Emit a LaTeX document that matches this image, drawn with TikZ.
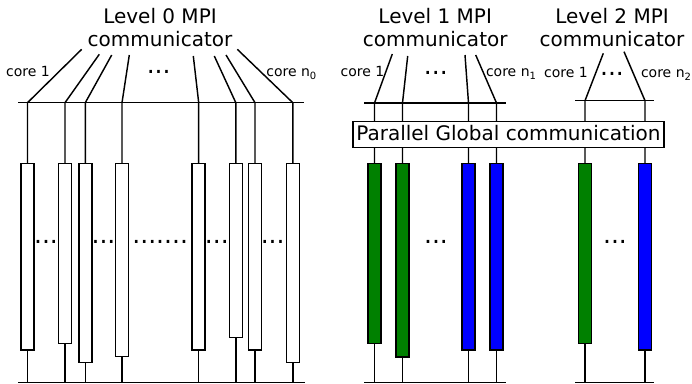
\documentclass[tikz,border=0pt]{standalone}
\usepackage{fontspec}
\setmainfont{DejaVu Sans}
\definecolor{cellgreen}{RGB}{0,128,0}
\definecolor{cellblue}{RGB}{0,0,255}
% small lowered index after "core n"
\newcommand\subidx[1]{{\fontsize{10}{12}\selectfont\raisebox{-3pt}{#1}}}
\begin{document}
\begin{tikzpicture}[x=1pt,y=-1pt,
  wire/.style={draw=black, line width=1.45pt},
  cellbox/.style={draw=black, line width=1.6pt, minimum width=13pt, inner sep=0pt, outer sep=0pt},
  title/.style={align=center, inner sep=0pt, anchor=north, font=\fontsize{20}{23.3}\selectfont},
  corelabel/.style={inner sep=0pt, anchor=base, font=\fontsize{14}{16}\selectfont},
  ellipsisdots/.style={inner sep=0pt, anchor=base, font=\fontsize{25}{28}\selectfont},
]
\useasboundingbox (0,0) rectangle (692,383);

% ---------------- Level 0 communicator ----------------
\node[title] (lvl0) at (160,8.1) {Level 0 MPI\\communicator};
\foreach \i/\x/\b/\dx/\dy in {1/27.5/350/81.7/49.3, 2/65/343.3/99.3/54.3,
    3/85.3/362.3/111.7/55, 4/122/356.3/129.3/55, 5/198.7/350/193.3/56,
    6/235.8/337.3/214.3/56, 7/255/350/226/55, 8/292.8/362.3/237.3/49.3} {
  \node[cellbox, fill=white, minimum height={\b-163.5}] (c0\i) at (\x,{(163.5+\b)/2}) {};
  \coordinate (t0\i) at (\dx,\dy);
  \coordinate (j0\i) at (\x,102.7);
  \coordinate (g0\i) at (\x,382.3);
  \draw[wire] (t0\i) -- (j0\i) -- (c0\i.north);
  \draw[wire] (c0\i.south) -- (g0\i);
}
\coordinate (h0a) at (18,102.7);  \coordinate (h0b) at (304,102.7);
\coordinate (f0a) at (18,382.3);  \coordinate (f0b) at (305,382.3);
\draw[wire] (h0a) -- (h0b);
\draw[wire] (f0a) -- (f0b);
\node[corelabel] (k01) at (28,76) {core 1};
\node[corelabel] (k0n) at (291.3,76) {core n\subidx{0}};
\node[ellipsisdots] (d00) at (158.7,73.2) {...};
\node[ellipsisdots] (d01) at (46,243.8) {...};
\node[ellipsisdots] (d02) at (103.5,243.8) {...};
\node[ellipsisdots] (d03) at (160.2,243.8) {.......};
\node[ellipsisdots] (d04) at (216.8,243.8) {...};
\node[ellipsisdots] (d05) at (272.7,243.8) {...};

% ---------------- Level 1 communicator ----------------
\node[title] (lvl1) at (435.2,8.1) {Level 1 MPI\\communicator};
\foreach \i/\x/\b/\dx/\dy/\col in {1/374.5/343.3/392.3/54/cellgreen,
    2/402.5/356.7/407.7/56/cellgreen, 3/468.5/350/465/55/cellblue,
    4/496.5/350/475.7/55/cellblue} {
  \node[cellbox, fill=\col, minimum height={\b-163.5}] (c1\i) at (\x,{(163.5+\b)/2}) {};
  \coordinate (t1\i) at (\dx,\dy);
  \coordinate (j1\i) at (\x,103);
  \coordinate (g1\i) at (\x,382.3);
  \draw[wire] (t1\i) -- (j1\i) -- (c1\i.north);
  \draw[wire] (c1\i.south) -- (g1\i);
}
\coordinate (h1a) at (364,103);  \coordinate (h1b) at (505.5,103);
\coordinate (f1a) at (364,382.3);  \coordinate (f1b) at (505.5,382.3);
\draw[wire] (h1a) -- (h1b);
\draw[wire] (f1a) -- (f1b);
\node[corelabel] (k11) at (362.5,76) {core 1};
\node[corelabel] (k1n) at (511,76) {core n\subidx{1}};
\node[ellipsisdots] (d10) at (435.8,74.5) {...};
\node[ellipsisdots] (d11) at (436,243.8) {...};

% ---------------- Level 2 communicator ----------------
\node[title] (lvl2) at (612,8.1) {Level 2 MPI\\communicator};
\foreach \i/\x/\b/\dx/\dy/\col in {1/585/343.3/603.3/53.3/cellgreen,
    2/645/350/624/51.7/cellblue} {
  \node[cellbox, fill=\col, minimum height={\b-163.5}] (c2\i) at (\x,{(163.5+\b)/2}) {};
  \coordinate (t2\i) at (\dx,\dy);
  \coordinate (j2\i) at (\x,100.7);
  \coordinate (g2\i) at (\x,382.3);
  \draw[wire] (t2\i) -- (j2\i) -- (c2\i.north);
  \draw[wire] (c2\i.south) -- (g2\i);
}
\coordinate (h2a) at (575,100.7);  \coordinate (h2b) at (654,100.7);
\coordinate (f2a) at (575,382.3);  \coordinate (f2b) at (654,382.3);
\draw[wire] (h2a) -- (h2b);
\draw[wire] (f2a) -- (f2b);
\node[corelabel] (k21) at (566,77) {core 1};
\node[corelabel] (k2n) at (666,77) {core n\subidx{2}};
\node[ellipsisdots] (d20) at (612,75.5) {...};
\node[ellipsisdots] (d21) at (615,243.8) {...};

% ---------------- shared communication layer ----------------
\node[draw=black, fill=white, line width=1.3pt, inner sep=0pt,
      minimum width=311pt, minimum height=26pt, text height=15.2pt, text depth=3.6pt,
      font=\fontsize{20}{24}\selectfont] (gcomm) at (508.4,134.2) {Parallel Global communication};
\end{tikzpicture}
\end{document}
